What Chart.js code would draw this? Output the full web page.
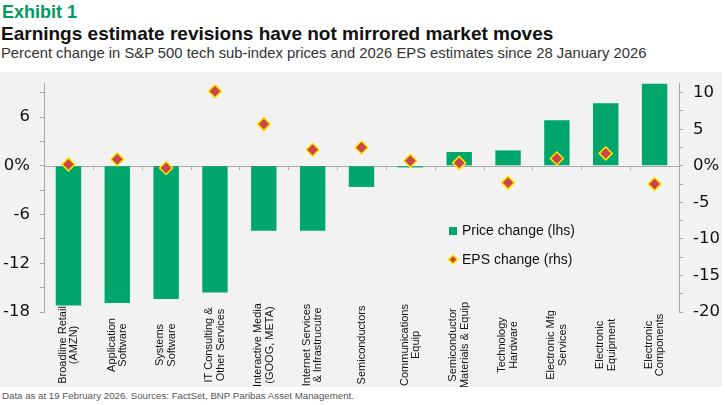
<!DOCTYPE html>
<html lang="en">
<head>
    <meta charset="UTF-8">
    <title>Earnings estimate revisions have not mirrored market moves</title>
    <script src="https://cdn.jsdelivr.net/npm/chart.js"></script>
    <style>
        body {
            margin: 0;
            width: 725px;
            height: 405px;
            position: relative;
            overflow: hidden;
            background: #fff;
            font-family: "Liberation Sans", Arial, sans-serif;
        }
        .exhibit {
            position: absolute; left: 2px; top: 2px;
            font: bold 18px "Liberation Sans Narrow", "Liberation Sans", sans-serif;
            color: #009a62;
        }
        .title {
            position: absolute; left: 1px; top: 23px;
            font: bold 19px "Liberation Sans Narrow", "Liberation Sans", sans-serif;
            color: #111;
            white-space: nowrap;
        }
        .subtitle {
            position: absolute; left: 1px; top: 45px;
            font: 14.8px "Liberation Sans", sans-serif;
            color: #333;
            white-space: nowrap;
        }
        .panel {
            position: absolute; left: 0; top: 72px;
            width: 722px; height: 315px;
            background: #f2f2f2;
        }
        .note {
            position: absolute; left: 2px; top: 390px;
            font: 9.7px "Liberation Sans", sans-serif;
            color: #555;
            white-space: nowrap;
        }
    </style>
</head>
<body>
    <div class="exhibit">Exhibit 1</div>
    <div class="title">Earnings estimate revisions have not mirrored market moves</div>
    <div class="subtitle">Percent change in S&amp;P 500 tech sub-index prices and 2026 EPS estimates since 28 January 2026</div>
    <div class="panel"><canvas id="myChart" width="722" height="315"></canvas></div>
    <div class="note">Data as at 19 February 2026. Sources: FactSet, BNP Paribas Asset Management.</div>

    <script>
        const categories = [
            ['Broadline Retail', '(AMZN)'],
            ['Application', 'Software'],
            ['Systems', 'Software'],
            ['IT Consulting &', 'Other Services'],
            ['Interactive Media', '(GOOG, META)'],
            ['Internet Services', '& Infrastrucutre'],
            ['Semiconductors'],
            ['Communications', 'Equip'],
            ['Semiconductor', 'Materials & Equip'],
            ['Technology', 'Hardware'],
            ['Electronic Mfg', 'Services'],
            ['Electronic', 'Equipment'],
            ['Electronic', 'Components']
        ];
        const priceChange = [-17.2, -16.9, -16.4, -15.6, -8.0, -8.0, -2.6, -0.2, 1.7, 1.9, 5.6, 7.7, 10.1];
        const epsChange = [0.2, 0.9, -0.3, 10.2, 5.7, 2.2, 2.5, 0.7, 0.4, -2.3, 1.0, 1.7, -2.5];

        const lhsTicks = [-18, -15, -12, -9, -6, -3, 0, 3, 6, 9];
        const lhsLabels = [-18, -12, -6, 0, 6];
        const rhsTicks = [-20, -17.5, -15, -12.5, -10, -7.5, -5, -2.5, 0, 2.5, 5, 7.5, 10];
        const rhsLabels = [-20, -15, -10, -5, 0, 5, 10];

        const GREEN = '#00a66b';
        const AXIS = '#a8a8a8';
        const TICK_FONT = { family: '"DejaVu Sans", sans-serif', size: 16.5 };

        function tickLabel(list) {
            return function(value) {
                if (!list.includes(value)) return '';
                return value === 0 ? '0%' : String(value);
            };
        }

        // zero line with little category ticks, like the excel axis
        const zeroLine = {
            id: 'zeroLine',
            beforeDatasetsDraw(chart) {
                const {ctx, chartArea} = chart;
                const y0 = chart.scales.y.getPixelForValue(0);
                const n = categories.length;
                const step = (chartArea.right - chartArea.left) / n;
                ctx.save();
                ctx.strokeStyle = AXIS;
                ctx.lineWidth = 1;
                ctx.beginPath();
                ctx.moveTo(chartArea.left, Math.round(y0) + 0.5);
                ctx.lineTo(chartArea.right, Math.round(y0) + 0.5);
                for (let i = 1; i < n; i++) {
                    const x = Math.round(chartArea.left + i * step) + 0.5;
                    ctx.moveTo(x, y0);
                    ctx.lineTo(x, y0 + 4);
                }
                ctx.stroke();
                ctx.restore();
            }
        };

        // vertical, centred category labels + the in-plot legend
        const labelsAndLegend = {
            id: 'labelsAndLegend',
            afterDraw(chart) {
                const {ctx} = chart;
                const xs = chart.scales.x;
                ctx.save();
                ctx.fillStyle = '#111';
                ctx.font = '11px "Liberation Sans Narrow", "Liberation Sans", sans-serif';
                ctx.textAlign = 'center';
                ctx.textBaseline = 'middle';
                const lineH = 11.5;
                categories.forEach((lines, i) => {
                    ctx.save();
                    ctx.translate(xs.getPixelForValue(i), 273);
                    ctx.rotate(-Math.PI / 2);
                    lines.forEach((t, j) => {
                        ctx.fillText(t, 0, (j - (lines.length - 1) / 2) * lineH);
                    });
                    ctx.restore();
                });

                // legend
                ctx.textAlign = 'left';
                ctx.font = '14px "Liberation Sans", sans-serif';
                ctx.fillStyle = GREEN;
                ctx.fillRect(449, 155, 8, 8);
                ctx.fillStyle = '#111';
                ctx.fillText('Price change (lhs)', 462, 159);

                ctx.beginPath();
                ctx.moveTo(453, 183);
                ctx.lineTo(457.5, 187.5);
                ctx.lineTo(453, 192);
                ctx.lineTo(448.5, 187.5);
                ctx.closePath();
                ctx.fillStyle = '#c9464a';
                ctx.strokeStyle = '#ffe600';
                ctx.lineWidth = 1.5;
                ctx.fill();
                ctx.stroke();
                ctx.fillStyle = '#111';
                ctx.fillText('EPS change (rhs)', 462, 188);
                ctx.restore();
            }
        };

        function fixWidth(w) {
            return function(scale) {
                scale.width = w;
                scale.paddingTop = 0;
                scale.paddingBottom = 0;
            };
        }

        const ctx = document.getElementById('myChart').getContext('2d');
        const myChart = new Chart(ctx, {
            data: {
                labels: categories,
                datasets: [{
                    type: 'line',
                    label: 'EPS change (rhs)',
                    data: epsChange,
                    yAxisID: 'y1',
                    showLine: false,
                    pointStyle: 'rectRot',
                    pointRadius: 6.5,
                    pointBackgroundColor: '#c9464a',
                    pointBorderColor: '#ffe600',
                    pointBorderWidth: 1.5,
                    order: 0
                }, {
                    type: 'bar',
                    label: 'Price change (lhs)',
                    data: priceChange,
                    yAxisID: 'y',
                    backgroundColor: GREEN,
                    categoryPercentage: 1,
                    barPercentage: 0.52,
                    order: 1
                }]
            },
            options: {
                responsive: false,
                animation: false,
                layout: { padding: { top: 11, left: 0, right: 0, bottom: 0 } },
                plugins: {
                    legend: { display: false },
                    tooltip: { enabled: false }
                },
                scales: {
                    x: {
                        type: 'category',
                        offset: true,
                        grid: { display: false },
                        border: { display: false },
                        ticks: { display: false },
                        afterFit(scale) {
                            scale.height = 75;
                            scale.paddingLeft = 0;
                            scale.paddingRight = 0;
                        }
                    },
                    y: {
                        position: 'left',
                        min: -18,
                        max: 10.2,
                        afterBuildTicks(axis) { axis.ticks = lhsTicks.map(v => ({value: v})); },
                        afterFit: fixWidth(44),
                        grid: { drawOnChartArea: false, color: AXIS, tickLength: 4 },
                        border: { color: AXIS },
                        ticks: {
                            autoSkip: false,
                            padding: 10,
                            color: '#111',
                            font: TICK_FONT,
                            callback: tickLabel(lhsLabels)
                        }
                    },
                    y1: {
                        position: 'right',
                        min: -20,
                        max: 11.33,
                        afterBuildTicks(axis) { axis.ticks = rhsTicks.map(v => ({value: v})); },
                        afterFit: fixWidth(43),
                        grid: { drawOnChartArea: false, color: AXIS, tickLength: 4 },
                        border: { color: AXIS },
                        ticks: {
                            autoSkip: false,
                            padding: 10,
                            color: '#111',
                            font: TICK_FONT,
                            callback: tickLabel(rhsLabels)
                        }
                    }
                }
            },
            plugins: [zeroLine, labelsAndLegend]
        });
    </script>
</body>
</html>
